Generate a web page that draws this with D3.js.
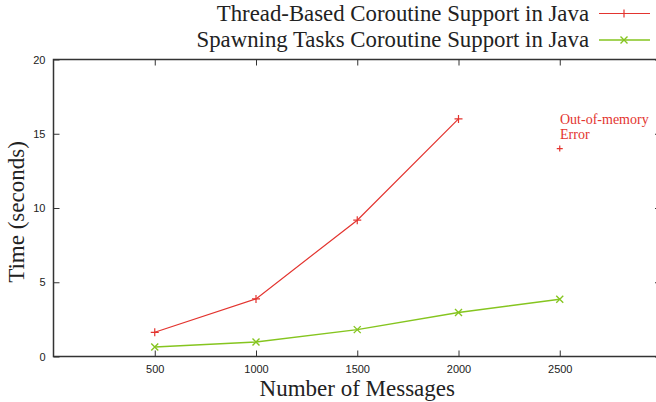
<!DOCTYPE html>
<html><head><meta charset="utf-8">
<script src="https://cdn.jsdelivr.net/npm/d3@7"></script>
<style>body{margin:0;background:#fff}svg{display:block}</style>
</head><body>
<script>
const messages = [500, 1000, 1500, 2000, 2500];
const threadBased = [1.63, 3.88, 9.18, 16.0];
const spawningTasks = [0.64, 0.98, 1.81, 2.96, 3.85];
const oomPoint = {x: 2500, y: 14.0};
const xTicks = [500, 1000, 1500, 2000, 2500];
const yTicks = [0, 5, 10, 15, 20];
const seriesNames = ["Thread-Based Coroutine Support in Java", "Spawning Tasks Coroutine Support in Java"];

const W = 656, H = 402;
const m = {left: 53.5, top: 59.5, right: 661, bottom: 356.5};
const RED = "#e3342f", GREEN = "#85c51f", AX = "#333";
const svg = d3.select("body").append("svg").attr("width", W).attr("height", H);

const x = d3.scaleLinear().domain([0, 3000]).range([m.left, m.right]);
const y = d3.scaleLinear().domain([0, 20]).range([m.bottom, m.top]);

svg.append("rect").attr("x", m.left).attr("y", m.top).attr("width", m.right - m.left).attr("height", m.bottom - m.top)
  .attr("fill", "none").attr("stroke", AX).attr("stroke-width", 1.5);

const tickFont = "Liberation Sans, Arial, sans-serif";
const gx = svg.append("g").attr("transform", `translate(0,${m.bottom})`)
  .call(d3.axisBottom(x).tickValues(xTicks).tickSize(-6).tickPadding(9).tickFormat(d3.format("d")));
gx.select(".domain").remove();
gx.selectAll("line").attr("stroke", AX);
gx.selectAll("text").attr("font-family", tickFont).attr("font-size", 11).attr("fill", "#222");
const gxt = svg.append("g").attr("transform", `translate(0,${m.top})`)
  .call(d3.axisTop(x).tickValues(xTicks).tickSize(-6).tickFormat(""));
gxt.select(".domain").remove();
gxt.selectAll("line").attr("stroke", AX);

const gy = svg.append("g").attr("transform", `translate(${m.left},0)`)
  .call(d3.axisLeft(y).tickValues(yTicks).tickSize(-6).tickPadding(8));
gy.select(".domain").remove();
gy.selectAll("line").attr("stroke", AX);
gy.selectAll("text").attr("font-family", tickFont).attr("font-size", 11).attr("fill", "#222");
const gyr = svg.append("g").attr("transform", `translate(${m.right},0)`)
  .call(d3.axisRight(y).tickValues(yTicks).tickSize(-6).tickFormat(""));
gyr.select(".domain").remove();
gyr.selectAll("line").attr("stroke", AX);

const serif = "Liberation Serif, Times New Roman, serif";
svg.append("text").attr("x", (m.left + 661) / 2).attr("y", 396).attr("text-anchor", "middle")
  .attr("font-family", serif).attr("font-size", 23).attr("fill", "#222").text("Number of Messages");
svg.append("text").attr("transform", `translate(24,${(m.top + m.bottom) / 2 + 4}) rotate(-90)`).attr("text-anchor", "middle")
  .attr("font-family", serif).attr("font-size", 23).attr("fill", "#222").text("Time (seconds)");

const line = d3.line().x(d => x(d[0])).y(d => y(d[1]));
const redData = threadBased.map((v, i) => [messages[i], v]);
const greenData = spawningTasks.map((v, i) => [messages[i], v]);

svg.append("path").datum(redData).attr("d", line).attr("fill", "none").attr("stroke", RED).attr("stroke-width", 1.2);
svg.append("path").datum(greenData).attr("d", line).attr("fill", "none").attr("stroke", GREEN).attr("stroke-width", 1.5);

function plus(g, cx, cy, color, s) {
  g.append("path").attr("d", `M${cx - s},${cy}H${cx + s}M${cx},${cy - s}V${cy + s}`).attr("stroke", color).attr("stroke-width", 1.2).attr("fill", "none");
}
function cross(g, cx, cy, color, s) {
  g.append("path").attr("d", `M${cx - s},${cy - s}L${cx + s},${cy + s}M${cx - s},${cy + s}L${cx + s},${cy - s}`).attr("stroke", color).attr("stroke-width", 1.4).attr("fill", "none");
}
redData.forEach(d => plus(svg, x(d[0]), y(d[1]), RED, 4));
greenData.forEach(d => cross(svg, x(d[0]), y(d[1]), GREEN, 3.5));
plus(svg, x(oomPoint.x), y(oomPoint.y), RED, 3);

svg.append("text").attr("x", 560).attr("y", 124).attr("font-family", serif).attr("font-size", 14).attr("fill", RED).text("Out-of-memory");
svg.append("text").attr("x", 560).attr("y", 139).attr("font-family", serif).attr("font-size", 14).attr("fill", RED).text("Error");

const leg = [{name: seriesNames[0], color: RED, y: 13.5, mk: plus, w: 1.2}, {name: seriesNames[1], color: GREEN, y: 40, mk: cross, w: 1.5}];
leg.forEach(l => {
  svg.append("text").attr("x", 589).attr("y", l.y + 7).attr("text-anchor", "end")
    .attr("font-family", serif).attr("font-size", 22.8).attr("fill", "#222").text(l.name);
  svg.append("line").attr("x1", 599).attr("x2", 650).attr("y1", l.y).attr("y2", l.y).attr("stroke", l.color).attr("stroke-width", l.w);
  l.mk(svg, 624, l.y, l.color, l === leg[0] ? 4 : 3.5);
});
</script>
</body></html>
